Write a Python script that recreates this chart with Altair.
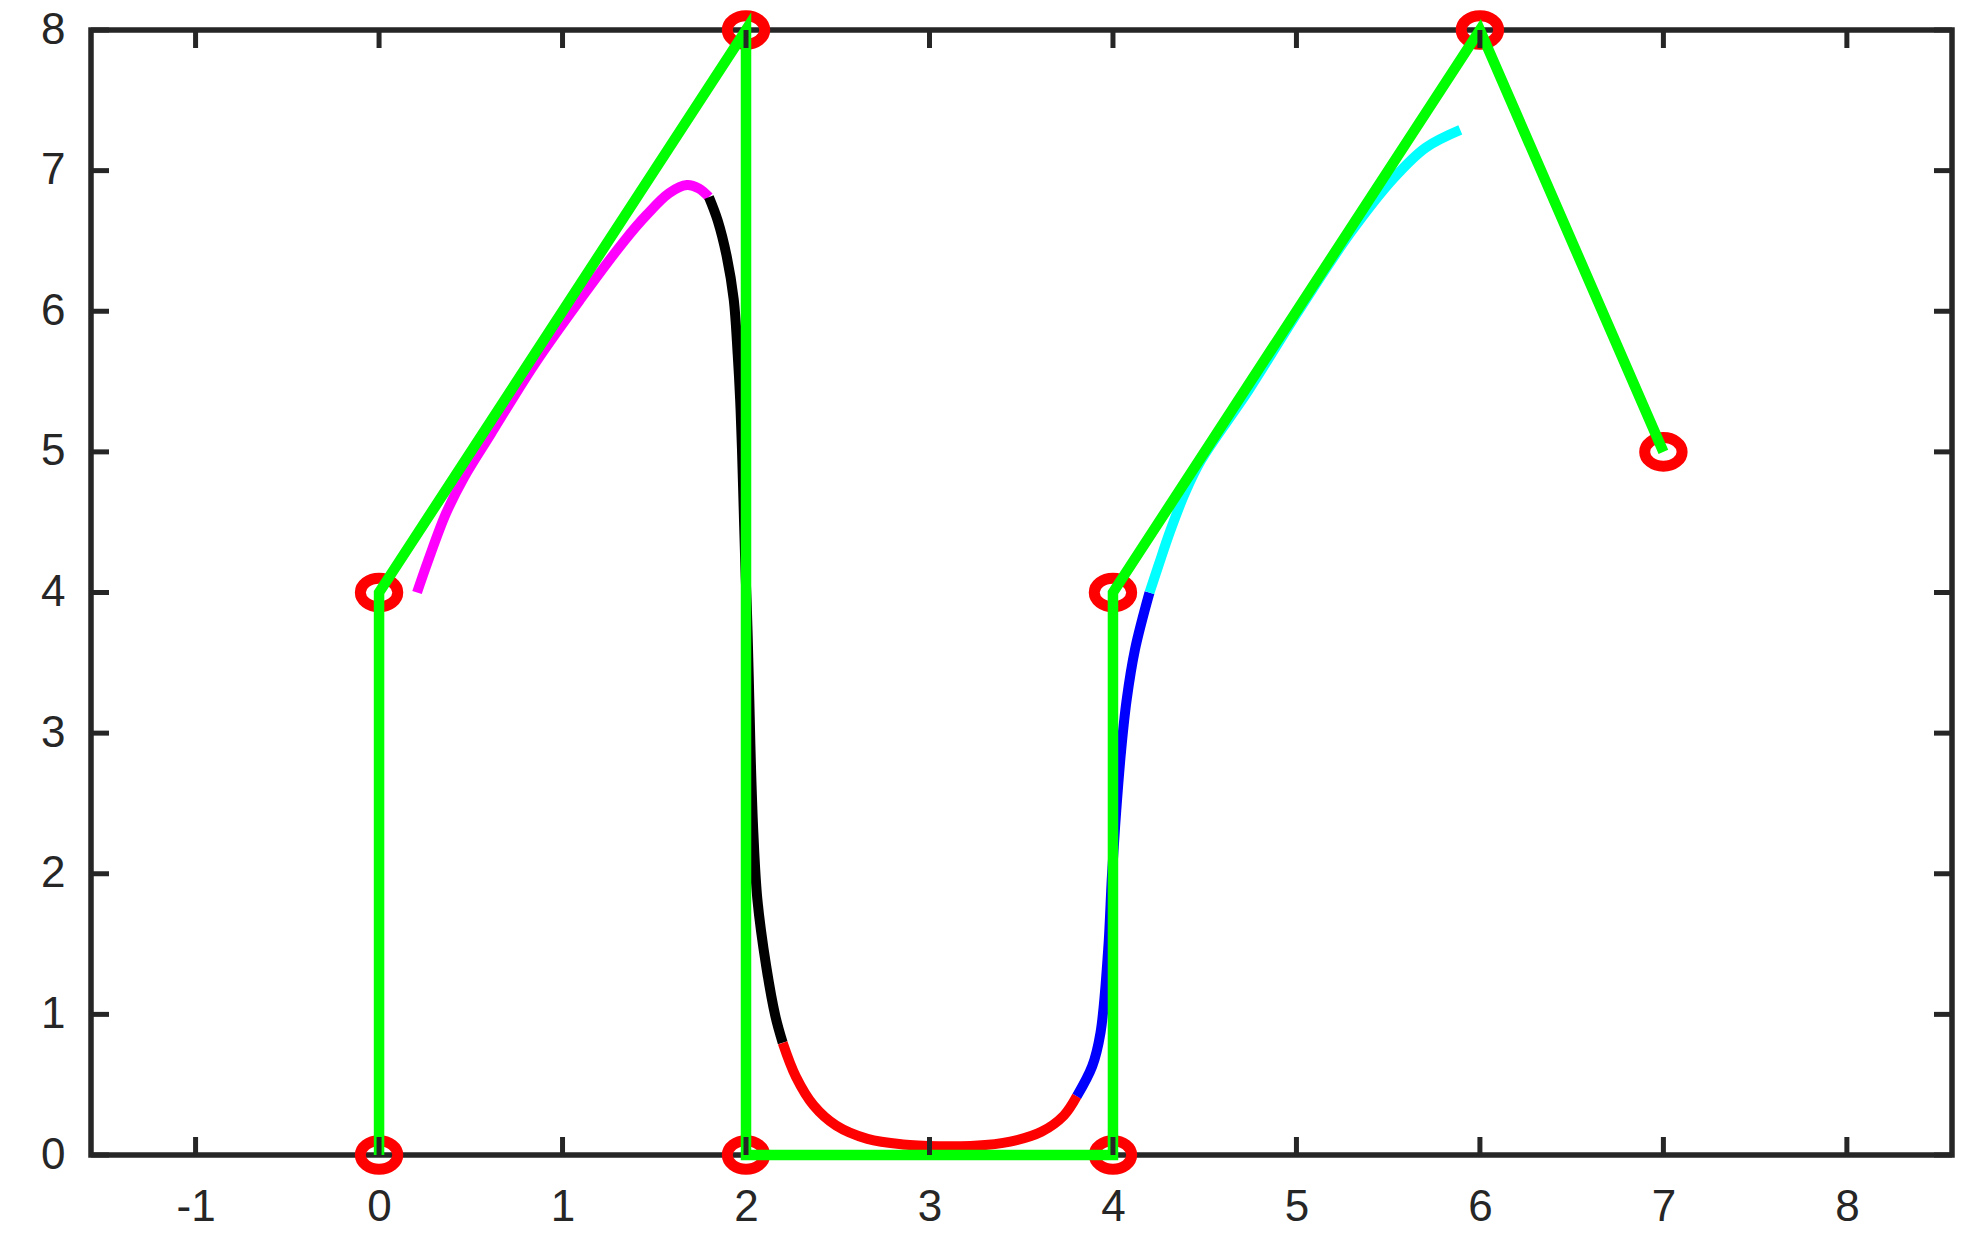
import altair as alt
import pandas as pd

# Control polygon (green) and control points (red circles)
ctrl_x = [0, 0, 2, 2, 4, 4, 6, 7]
ctrl_y = [0, 4, 8, 0, 0, 4, 8, 5]

# Curve segments
magenta_x = [0.207, 0.267, 0.365, 0.462, 0.608, 0.851, 1.095, 1.338, 1.459, 1.581, 1.678, 1.742, 1.798]
magenta_y = [4.0, 4.225, 4.563, 4.816, 5.125, 5.631, 6.081, 6.503, 6.686, 6.84, 6.897, 6.874, 6.812]

black_x = [1.798, 1.846, 1.895, 1.933, 1.955, 1.968, 1.978, 1.99, 1.998, 2.004, 2.012, 2.018, 2.027, 2.04, 2.062, 2.11, 2.16, 2.2]
black_y = [6.812, 6.644, 6.39, 6.085, 5.687, 5.373, 5.018, 4.472, 4.117, 3.915, 3.548, 3.24, 2.765, 2.292, 1.817, 1.343, 0.987, 0.798]

red_x = [2.2, 2.272, 2.369, 2.491, 2.662, 2.856, 3.051, 3.245, 3.44, 3.61, 3.732, 3.803]
red_y = [0.798, 0.557, 0.352, 0.21, 0.115, 0.075, 0.063, 0.065, 0.095, 0.165, 0.28, 0.418]

blue_x = [3.803, 3.887, 3.932, 3.974, 3.995, 4.018, 4.045, 4.075, 4.12, 4.199]
blue_y = [0.418, 0.632, 0.869, 1.462, 2.0, 2.45, 2.884, 3.24, 3.595, 3.999]

cyan_x = [4.199, 4.25, 4.31, 4.39, 4.48, 4.74, 5.01, 5.295, 5.534, 5.705, 5.893]
cyan_y = [3.999, 4.2, 4.43, 4.7, 4.94, 5.44, 6.0, 6.559, 6.952, 7.164, 7.29]

seg_names = ["magenta", "black", "red", "blue", "cyan"]
seg_colors = ["#FF00FF", "#000000", "#FF0000", "#0000FF", "#00FFFF"]
seg_data = [(magenta_x, magenta_y), (black_x, black_y), (red_x, red_y),
            (blue_x, blue_y), (cyan_x, cyan_y)]

x_ticks = [-1, 0, 1, 2, 3, 4, 5, 6, 7, 8]
y_ticks = [0, 1, 2, 3, 4, 5, 6, 7, 8]

W, H = 1861, 1125
TICK = 18
AXC = "#262626"
FONT = "Liberation Sans"
FS = 44

rows = []
for name, (xx, yy) in zip(seg_names, seg_data):
    for i, (a, b) in enumerate(zip(xx, yy)):
        rows.append({"seg": name, "i": i, "x": a, "y": b})
curves_df = pd.DataFrame(rows)
ctrl_df = pd.DataFrame({"i": list(range(len(ctrl_x))), "x": ctrl_x, "y": ctrl_y})

xs = alt.Scale(domain=[-1.57, 8.573], nice=False, zero=False)
ys = alt.Scale(domain=[0, 8], nice=False, zero=False)

x_axis = alt.Axis(values=x_ticks, grid=False, domain=False, ticks=False, tickSize=0,
                  labelFontSize=FS, labelFont=FONT, labelColor=AXC, labelPadding=30,
                  labelFlush=False, labelOverlap=False, title=None,
                  labelExpr="'' + datum.value")
y_axis = alt.Axis(values=y_ticks, grid=False, domain=False, ticks=False, tickSize=0,
                  labelFontSize=FS, labelFont=FONT, labelColor=AXC, labelPadding=26,
                  labelFlush=False, labelOverlap=False, title=None,
                  labelExpr="'' + datum.value")

X = lambda f: alt.X(f, scale=xs, axis=x_axis, title=None)
Y = lambda f: alt.Y(f, scale=ys, axis=y_axis, title=None)

ellipse = ("M1,0C1,0.4225,0.5523,0.765,0,0.765C-0.5523,0.765,-1,0.4225,-1,0"
           "C-1,-0.4225,-0.5523,-0.765,0,-0.765C0.5523,-0.765,1,-0.4225,1,0Z")

circles = alt.Chart(ctrl_df).mark_point(
    shape=ellipse, size=1400, filled=False, color="#FF0000", strokeWidth=11,
    opacity=1, clip=False
).encode(x=X("x:Q"), y=Y("y:Q"))

curves = alt.Chart(curves_df).mark_line(
    strokeWidth=10, clip=False, interpolate="catmull-rom"
).encode(
    x=X("x:Q"), y=Y("y:Q"),
    color=alt.Color("seg:N", scale=alt.Scale(domain=seg_names, range=seg_colors), legend=None),
    order=alt.Order("i:Q"),
)

green = alt.Chart(ctrl_df).mark_line(strokeWidth=10.5, color="#00FF00", clip=False).encode(
    x=X("x:Q"), y=Y("y:Q"), order=alt.Order("i:Q"),
)

xt_df = pd.DataFrame({"t": x_ticks})
yt_df = pd.DataFrame({"t": y_ticks})

tick_bottom = alt.Chart(xt_df).mark_rule(color=AXC, strokeWidth=5).encode(
    x=X("t:Q"), y=alt.value(H), y2=alt.value(H - TICK))
tick_top = alt.Chart(xt_df).mark_rule(color=AXC, strokeWidth=5).encode(
    x=X("t:Q"), y=alt.value(0), y2=alt.value(TICK))
tick_left = alt.Chart(yt_df).mark_rule(color=AXC, strokeWidth=5).encode(
    y=Y("t:Q"), x=alt.value(0), x2=alt.value(TICK))
tick_right = alt.Chart(yt_df).mark_rule(color=AXC, strokeWidth=5).encode(
    y=Y("t:Q"), x=alt.value(W), x2=alt.value(W - TICK))

chart = alt.layer(
    circles, curves, green, tick_bottom, tick_top, tick_left, tick_right
).properties(
    width=W, height=H,
    autosize=alt.AutoSizeParams(type="none"),
    padding={"left": 83, "top": 22, "right": 22, "bottom": 90},
).configure_view(
    stroke=AXC, strokeWidth=5.5
)

chart.save("out.html", embed_options={"renderer": "svg", "actions": False})
